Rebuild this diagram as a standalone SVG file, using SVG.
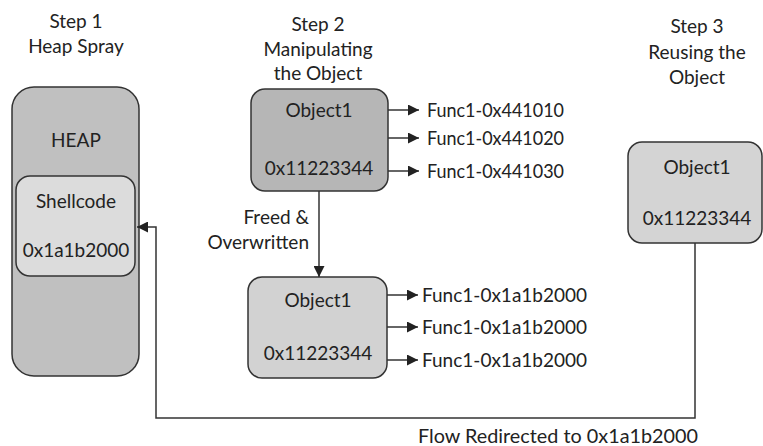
<svg xmlns="http://www.w3.org/2000/svg" width="763" height="446" viewBox="0 0 763 446">
<style>
text{font-family:"Lato","Open Sans",sans-serif;font-size:19px;fill:#222}
.c{text-anchor:middle}
.r{text-anchor:end}
.box{stroke:#333;stroke-width:1.5}
.ln{stroke:#333;stroke-width:1.5;fill:none}
</style>
<defs>
<marker id="ah" viewBox="0 0 10 10" refX="10" refY="5" markerWidth="11" markerHeight="11" markerUnits="userSpaceOnUse" orient="auto">
<path d="M0,0 L10,5 L0,10 z" fill="#222"/>
</marker>
</defs>
<rect width="763" height="446" fill="#fff"/>
<g id="labels">
<text class="c" x="76" y="28">Step 1</text>
<text class="c" x="76" y="53">Heap Spray</text>
<text class="c" x="318" y="31">Step 2</text>
<text class="c" x="318" y="56">Manipulating</text>
<text class="c" x="318" y="80">the Object</text>
<text class="c" x="697" y="33">Step 3</text>
<text class="c" x="697" y="59">Reusing the</text>
<text class="c" x="697" y="84">Object</text>
<text class="r" x="309" y="224">Freed &amp;</text>
<text class="r" x="309" y="249">Overwritten</text>
<text x="418" y="443" textLength="280" lengthAdjust="spacingAndGlyphs">Flow Redirected to 0x1a1b2000</text>
</g>
<g id="heap">
<rect class="box" x="12" y="87" width="127" height="289" rx="22" fill="#c0c0c0"/>
<text class="c" x="76" y="147">HEAP</text>
</g>
<g id="shellcode">
<rect class="box" x="16" y="176" width="119" height="100" rx="14" fill="#dcdcdc"/>
<text class="c" x="76" y="208">Shellcode</text>
<text class="c" x="76" y="257">0x1a1b2000</text>
</g>
<g id="object-step2">
<rect class="box" x="251" y="89" width="137" height="102" rx="14" fill="#b6b6b6"/>
<text class="c" x="319" y="117">Object1</text>
<text class="c" x="319" y="175">0x11223344</text>
</g>
<g id="object-overwritten">
<rect class="box" x="248" y="277" width="139" height="101" rx="14" fill="#d2d2d2"/>
<text class="c" x="318" y="307">Object1</text>
<text class="c" x="318" y="360">0x11223344</text>
</g>
<g id="object-step3">
<rect class="box" x="628" y="142" width="134" height="101" rx="14" fill="#d4d4d4"/>
<text class="c" x="697" y="174">Object1</text>
<text class="c" x="697" y="225">0x11223344</text>
</g>
<g id="funcs">
<text x="427" y="117" textLength="137" lengthAdjust="spacingAndGlyphs">Func1-0x441010</text>
<text x="427" y="145" textLength="137" lengthAdjust="spacingAndGlyphs">Func1-0x441020</text>
<text x="427" y="178" textLength="137" lengthAdjust="spacingAndGlyphs">Func1-0x441030</text>
<text x="422" y="302">Func1-0x1a1b2000</text>
<text x="422" y="334">Func1-0x1a1b2000</text>
<text x="422" y="367">Func1-0x1a1b2000</text>
</g>
<g id="connectors">
<line class="ln" x1="388" y1="110" x2="419" y2="110" marker-end="url(#ah)"/>
<line class="ln" x1="388" y1="138" x2="419" y2="138" marker-end="url(#ah)"/>
<line class="ln" x1="388" y1="171" x2="419" y2="171" marker-end="url(#ah)"/>
<line class="ln" x1="387" y1="295" x2="418" y2="295" marker-end="url(#ah)"/>
<line class="ln" x1="387" y1="327" x2="418" y2="327" marker-end="url(#ah)"/>
<line class="ln" x1="387" y1="360" x2="418" y2="360" marker-end="url(#ah)"/>
<line class="ln" x1="319" y1="191" x2="319" y2="277" marker-end="url(#ah)"/>
<polyline class="ln" points="695,243 695,418 156,418 156,227 137,227" marker-end="url(#ah)"/>
</g>
</svg>
